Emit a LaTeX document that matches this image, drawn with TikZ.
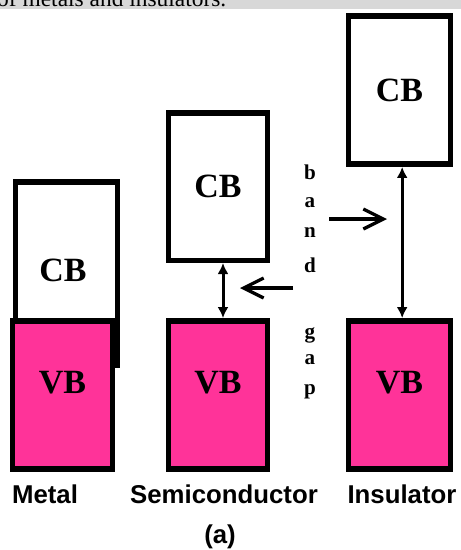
\documentclass[tikz,border=0pt]{standalone}
\usepackage{fontspec}
\setmainfont{Liberation Serif}
\newfontfamily\labelfont{Liberation Sans}
\usetikzlibrary{arrows.meta,positioning}
\definecolor{magentaband}{RGB}{255,51,153}
\definecolor{pagegray}{RGB}{216,216,216}
\tikzset{
  band/.style={draw=black,line width=0.165cm,minimum width=#1,inner sep=0pt,
    minimum height=4.45cm,font=\fontsize{29}{29}\selectfont\bfseries},
  band/.default=3.05cm,
  cb/.style={band=#1,fill=white},
  cb/.default=3.05cm,
  vb/.style={band=#1,fill=magentaband},
  vb/.default=3.05cm,
  vblbl/.style={font=\fontsize{29}{29}\selectfont\bfseries,inner sep=0pt},
  letter/.style={font=\fontsize{18}{18}\selectfont\bfseries,inner sep=0pt},
  caption/.style={font=\labelfont\fontsize{22}{22}\selectfont\bfseries,inner sep=0pt},
  gap/.style={{Latex[length=3.3mm,width=3.3mm]}-{Latex[length=3.3mm,width=3.3mm]},line width=0.09cm},
  point/.style={-{Straight Barb[length=6mm,width=6mm]},line width=0.1cm},
}
\begin{document}
\begin{tikzpicture}[x=0.03cm,y=-0.03cm]
  \useasboundingbox (0,0) rectangle (461,550);
  % clipped page strip on top
  \fill[pagegray] (0,0) rectangle (461,9);
  \begin{scope}
    \clip (0,0) rectangle (461,9);
    \node[anchor=base west,inner sep=0pt,font=\fontsize{20}{20}\selectfont] (top) at (-3,6) {of metals and insulators.};
  \end{scope}
  % metal
  \node[cb,minimum height=5.5cm] (mcb) at (66.5,273.5) {};
  \node[vblbl] (mcbt) at (63,270) {CB};
  \node[vb=2.985cm] (mvb) at (62.5,395) {};
  \node[vblbl] (mvbt) at (62.5,383) {VB};
  % semiconductor
  \node[cb=2.955cm,minimum height=4.425cm] (scb) at (218,186.5) {CB};
  \node[vb=2.955cm] (svb) at (218,395) {};
  \node[vblbl] (svbt) at (218,383) {VB};
  % insulator
  \node[cb] (icb) at (399.5,90) {CB};
  \node[vb] (ivb) at (399.5,395) {};
  \node[vblbl] (ivbt) at (399.5,383) {VB};
  % gaps
  \draw[gap] ([xshift=0.15cm]scb.south) -- ([xshift=0.15cm]svb.north);
  \draw[gap] ([xshift=0.08cm]icb.south) -- ([xshift=0.08cm]ivb.north);
  % band gap letters
  \foreach \ch/\yy [count=\i] in {b/172,a/203,n/233,d/265,g/335,a/360,p/392}
    \node[letter] (l\i) at (310,\yy) {\ch};
  \coordinate (ra) at (329,219);
  \coordinate (rb) at (387,219);
  \coordinate (la) at (293,288);
  \coordinate (lb) at (240,288);
  \draw[point] (ra) -- (rb);
  \draw[point] (la) -- (lb);
  % captions
  \node[caption] (metal) at (45,494) {Metal};
  \node[caption] (semi) at (224,494) {Semiconductor};
  \node[caption] (ins) at (402,494) {Insulator};
  \node[caption] (sub) at (220,537) {(a)};
\end{tikzpicture}
\end{document}
